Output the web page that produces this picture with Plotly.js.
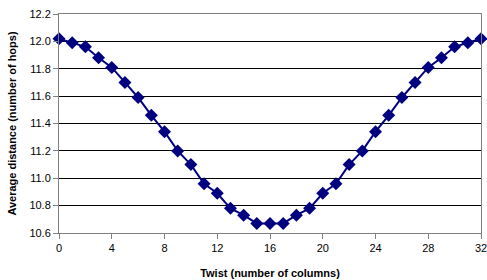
<!DOCTYPE html>
<html>
<head>
<meta charset="utf-8">
<script src="https://cdn.plot.ly/plotly-3.0.1.min.js"></script>
<style>html,body{margin:0;padding:0;background:#fff;}#chart{width:487px;height:280px;}</style>
</head>
<body>
<div id="chart"></div>
<script>
const twist = [0,1,2,3,4,5,6,7,8,9,10,11,12,13,14,15,16,17,18,19,20,21,22,23,24,25,26,27,28,29,30,31,32];
const avgDistance = [12.02,11.99,11.96,11.88,11.81,11.70,11.59,11.46,11.34,11.20,11.10,10.96,10.89,10.78,10.73,10.67,10.67,10.67,10.73,10.78,10.89,10.96,11.10,11.20,11.34,11.46,11.59,11.70,11.81,11.88,11.96,11.99,12.02];
const xTicks = [0,4,8,12,16,20,24,28,32];
const yTicks = [10.6,10.8,11.0,11.2,11.4,11.6,11.8,12.0,12.2];

const trace = {
  x: twist, y: avgDistance, type: 'scatter', mode: 'lines+markers',
  line: {color: '#000080', width: 2},
  marker: {symbol: 'diamond', size: 10, color: '#000080'},
  cliponaxis: false, hoverinfo: 'none'
};
const layout = {
  width: 487, height: 280,
  margin: {l: 59, r: 6, t: 14, b: 47},
  paper_bgcolor: '#fff', plot_bgcolor: '#fff',
  showlegend: false,
  font: {family: 'Liberation Sans, Arial, sans-serif', size: 11, color: '#000'},
  xaxis: {
    range: [0, 32], tickvals: xTicks, ticktext: xTicks.map(String),
    showgrid: false, zeroline: false,
    showline: true, linecolor: '#808080', linewidth: 1, mirror: true,
    ticks: 'outside', ticklen: 5, tickcolor: '#808080',
    tickfont: {size: 11}, fixedrange: true, ticklabeloverflow: 'allow',
    title: {text: 'Twist (number of columns)', font: {size: 11, weight: 'bold'}, standoff: 16}
  },
  yaxis: {
    range: [10.6, 12.2], tickvals: yTicks, ticktext: yTicks.map(v => v.toFixed(1)),
    showgrid: true, gridcolor: '#000', gridwidth: 1, zeroline: false,
    showline: true, linecolor: '#808080', linewidth: 1, mirror: true,
    ticks: 'outside', ticklen: 5, tickcolor: '#808080',
    tickfont: {size: 11}, fixedrange: true,
    title: {text: 'Average distance (number of hops)', font: {size: 11, weight: 'bold'}, standoff: 10}
  }
};
Plotly.newPlot('chart', [trace], layout, {staticPlot: true, displayModeBar: false});
</script>
</body>
</html>
